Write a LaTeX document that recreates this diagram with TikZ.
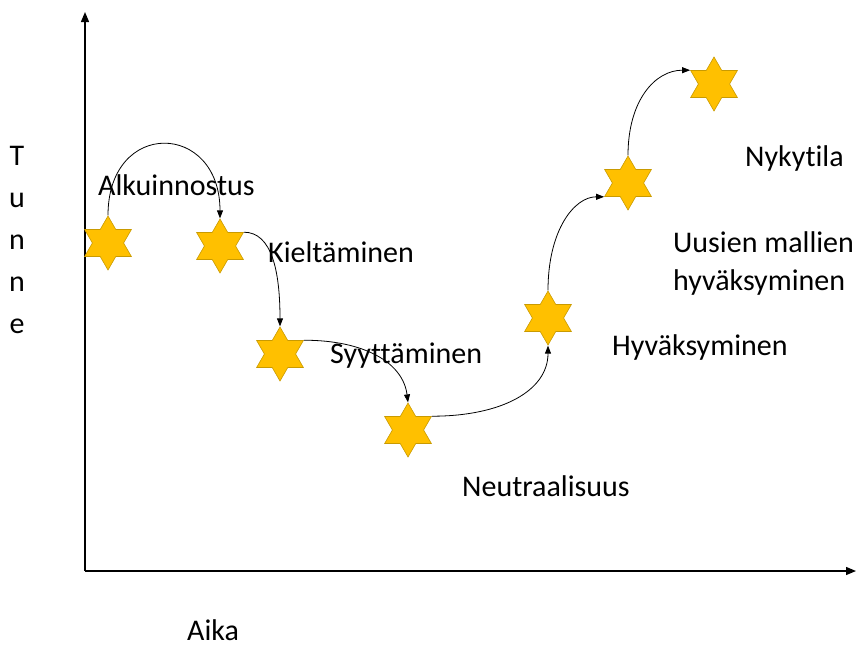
\documentclass[tikz,border=0pt]{standalone}
\usepackage{fontspec}
\setmainfont[Ligatures=NoCommon]{Carlito}
\usetikzlibrary{arrows.meta,shapes.geometric}
\definecolor{gold}{HTML}{FFC000}
\definecolor{darkgold}{HTML}{C99A00}
\tikzset{
  starnode/.style={star,star points=6,star point ratio=1.732,minimum size=54pt,inner sep=0pt,fill=gold,draw=darkgold,line width=0.6pt},
  lbl/.style={anchor=base west,inner sep=0pt,align=left,font=\fontsize{30}{38}\selectfont},
  axis/.style={-{Triangle[length=10pt,width=8pt]},line width=1.3pt},
  flow/.style={-{Triangle[length=8pt,width=6pt]},line width=0.8pt}}

\begin{document}
\begin{tikzpicture}[x=1pt,y=-1pt]
  \useasboundingbox (0,0) rectangle (856,645);
  \coordinate (origin) at (85,571);
  \coordinate (ytop) at (85,12);
  \coordinate (xend) at (856,571);
  \draw[axis] (origin) -- (ytop);
  \draw[axis] (origin) -- (xend);
  \foreach \n/\x/\y in {s1/108/243,s2/220/246,s3/280/354,s4/408/430,s5/548/318,s6/628/183,s7/714/84}
    {\node[starnode] (\n) at (\x,\y) {};}
  \node[lbl] (alku) at (98,195) {Alkuinnostus};
  \node[lbl] (kiel) at (268,262) {Kieltäminen};
  \node[lbl] (syyt) at (330,363) {Syyttäminen};
  \node[lbl] (neut) at (462,496) {Neutraalisuus};
  \node[lbl] (hyva) at (612,355) {Hyväksyminen};
  \node[lbl] (uusi) at (673,290) {Uusien mallien\\hyväksyminen};
  \node[lbl] (nyky) at (745,166) {Nykytila};
  \node[lbl,text depth=0pt] (aika) at (187,640) {Aika};
  \node[lbl,anchor=base,align=center,font=\fontsize{30}{42}\selectfont] (tunne) at (17,333) {T\\u\\n\\n\\e};
  \draw[flow] (s1.outer point 1) .. controls +(0,-97) and +(0,-97) .. (s2.outer point 1);
  \draw[flow] (s2.outer point 6) .. controls +(28,0) and +(0,-55) .. (s3.outer point 1);
  \draw[flow] (s3.outer point 6) .. controls +(60,0) and +(-5,-40) .. (s4.outer point 1);
  \draw[flow] (s4.outer point 6) .. controls +(70,0) and +(0,45) .. (s5.outer point 4);
  \draw[flow] (s5.outer point 1) .. controls +(0,-60) and +(-30,0) .. (s6.outer point 3);
  \draw[flow] (s6.outer point 1) .. controls +(0,-55) and +(-35,0) .. (s7.outer point 2);
\end{tikzpicture}
\end{document}
